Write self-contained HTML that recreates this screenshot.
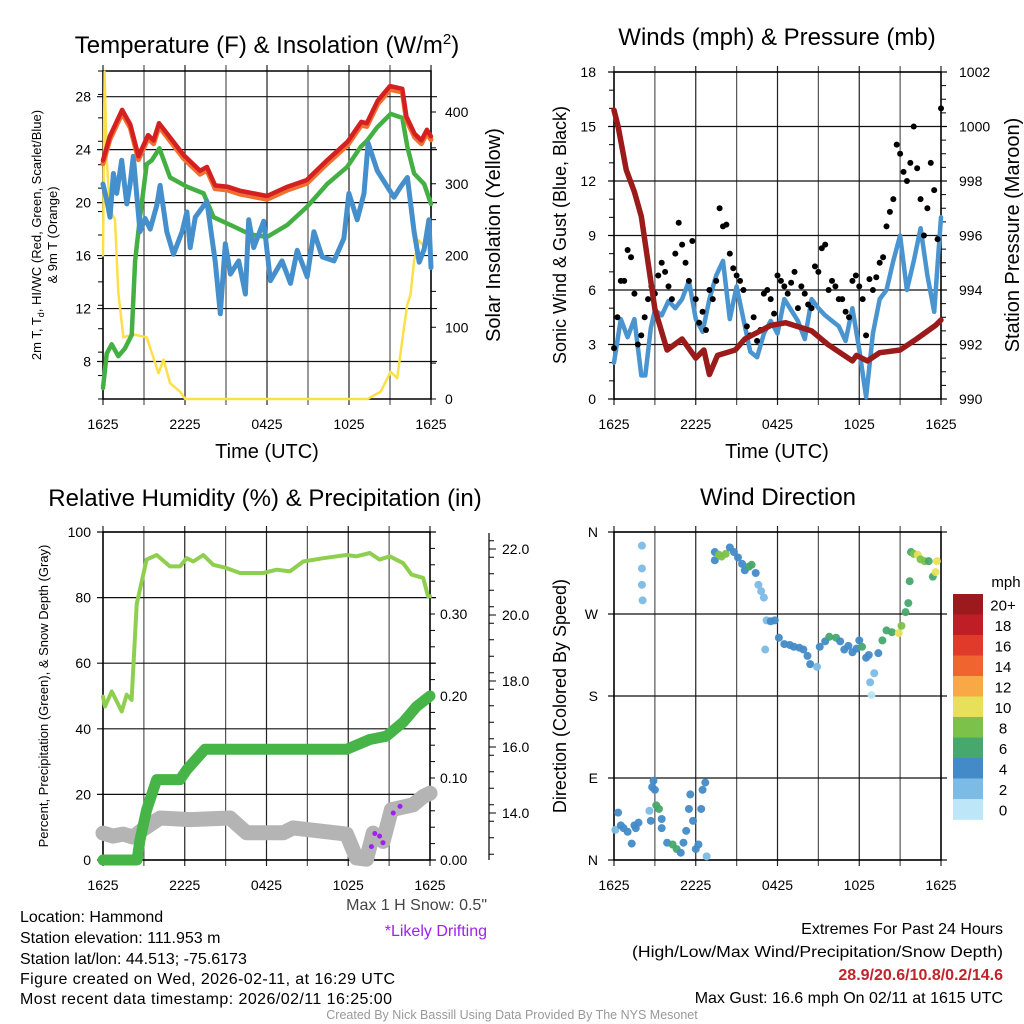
<!DOCTYPE html>
<html><head><meta charset="utf-8"><style>
body{margin:0;background:#fff}
svg{display:block;font-family:"Liberation Sans",sans-serif}
</style></head><body>
<svg id="c" width="1024" height="1024" viewBox="0 0 1024 1024" xmlns="http://www.w3.org/2000/svg">
<rect width="1024" height="1024" fill="#fff"/>
<g id="g1"></g>
<g id="g2"></g>
<g id="g3"></g>
<g id="g4"></g>
<g font-size="16" fill="#000">
<text x="20" y="922">Location: Hammond</text>
<text x="20" y="943">Station elevation: 111.953 m</text>
<text x="20" y="964">Station lat/lon: 44.513; -75.6173</text>
<text x="20" y="984" textLength="375">Figure created on Wed, 2026-02-11, at 16:29 UTC</text>
<text x="20" y="1004" textLength="372">Most recent data timestamp: 2026/02/11 16:25:00</text>
<text x="487" y="910" text-anchor="end" fill="#444">Max 1 H Snow: 0.5"</text>
<text x="487" y="936" text-anchor="end" fill="#a020f0">*Likely Drifting</text>
<text x="1003" y="934" text-anchor="end">Extremes For Past 24 Hours</text>
<text x="1003" y="957" text-anchor="end" textLength="371" lengthAdjust="spacingAndGlyphs">(High/Low/Max Wind/Precipitation/Snow Depth)</text>
<text x="1003" y="980" text-anchor="end" fill="#c0242c" font-weight="bold">28.9/20.6/10.8/0.2/14.6</text>
<text x="1003" y="1003" text-anchor="end">Max Gust: 16.6 mph On 02/11 at 1615 UTC</text>
<text x="512" y="1019" text-anchor="middle" font-size="12.5" fill="#999">Created By Nick Bassill Using Data Provided By The NYS Mesonet</text>
</g>
</svg>
<script>
// ---------- DATA ----------
const xTickLabels=["1625","2225","0425","1025","1625"];
const tempTicks=[8,12,16,20,24,28];
const solarTicks=[0,100,200,300,400];
const windTicks=[0,3,6,9,12,15,18];
const presTicks=[990,992,994,996,998,1000,1002];
const pctTicks=[0,20,40,60,80,100];
const precipTicks=[0,0.1,0.2,0.3];
const snowTicks=[14,16,18,20,22];
const dirTicks=["N","E","S","W","N"];
const speedBins=["0","2","4","6","8","10","12","14","16","18","20+"];

const redT=[0,0.5,1.4,2,2.6,3.3,3.7,4.1,4.7,5.9,7.1,7.6,8.2,9.1,10,12,13.5,14.9,16.4,17.9,18.9,19.3,20.1,21,21.9,22.2,22.8,23.3,23.7,24];
const redV=[23.2,25,27,25.9,23.5,25.1,24.7,26,25.2,23.6,22.4,22.7,21.3,21.2,20.9,20.5,21.2,21.7,23.2,24.6,26.1,26,27.7,28.8,28.6,26.5,25.2,24.7,25.5,25];
const greenT=[0,0.27,0.64,1.12,1.61,2.1,2.35,2.71,3.2,3.57,4.13,4.91,6.14,7.36,8.09,9.56,10.78,12,13.47,14.94,16.4,17.87,18.85,19.34,20.07,21.05,21.9,22.27,22.76,23.5,24];
const greenV=[6,8.6,9.3,8.4,9,10,15.6,18.9,22.9,23.2,24.1,21.9,21.2,20.7,18.9,18.2,17.6,17.4,18.3,19.7,21.4,22.7,24.2,24.7,25.7,26.7,26.4,24.2,22.2,21.4,19.9];
const blueT=[0,0.27,0.51,0.76,1,1.37,1.74,1.98,2.22,2.71,3.08,3.45,3.94,4.18,4.67,5.16,5.79,6.14,6.38,6.75,7.6,8.22,8.58,8.95,9.32,9.93,10.42,10.66,11.03,11.76,12.25,13.1,13.72,14.21,14.94,15.43,16.04,16.9,17.63,17.99,18.6,19.1,19.4,20.07,20.8,21.29,21.78,22.27,22.76,23.14,23.5];
const blueV=[21.4,20.2,18.9,22.2,20.7,23.2,19.9,21.4,23.5,17.8,18.8,18,19.8,21.3,17.8,16.1,17.8,19.3,16.6,18.9,20.1,15.5,11.6,16.9,14.6,15.6,13.1,18.7,16.6,18.6,14.1,15.6,13.9,16.4,14.4,17.8,15.9,15.6,17.3,20.7,18.7,20.7,24.5,22.4,21.2,20.4,21.2,21.9,17.8,15.5,16.5];
const blueT2=[23.85,24];
const blueV2=[18.7,15.1];
const solarT=[0,0.12,0.27,0.51,0.88,1.12,1.49,2.22,3.2,4.06,4.43,4.91,5.65,6.02,19.34,20.31,21.05,21.53,22.02,22.27,22.51,22.76,23.12,23.5];
const solarV=[200,456,333,264,250,148,86,90,86,36,55,22,10,0,0,10,38,29,99,132,146,193,221,212];

const windT=[0,0.5,1,1.5,2,2.3,2.7,3,3.5,4,4.5,5,5.5,6,6.5,7,7.5,8,8.5,9,9.5,10,10.5,11,11.5,12,12.5,13,13.5,14,14.5,15,15.5,16,16.5,17,17.5,18,18.5,19,19.5,20,20.5,21,21.5,22,22.5,23,23.5,24];
const windV=[2,4.4,3.4,4.4,1.3,1.3,3.9,4.9,4.6,5.4,5,5.5,6.5,4.4,3.7,5.5,6.8,7.6,4.4,6.2,4.4,2.6,2.3,3.6,4.3,3.6,5.5,4.9,4.3,3.3,5.5,5,4.6,4.3,4,3.2,5,2.7,0.1,3.6,5.5,6,7.6,9,6,7.6,9.4,6.8,4.8,10];
const gustT=[0,0.5,1,1.5,2,2.5,3,3.5,4,4.5,5,5.5,6,6.5,7,7.5,8,8.5,9,9.5,10,10.5,11,11.5,12,12.5,13,13.5,14,14.5,15,15.5,16,16.5,17,17.5,18,18.5,19,19.5,20,20.5,21,21.5,22,22.5,23,23.5,24];
const gustV=[2.8,6.5,8.2,5.8,3.5,5.5,5.8,7.5,6.2,8,8.5,6.5,5.5,4.8,6,6.5,9.5,8,6.8,6,3.5,3.2,5.8,5.5,6.8,6.2,6.4,5,5.8,5,7,8.5,6.5,5.5,4.8,6.5,6.2,3.5,6,7.5,9.5,11,13.5,12,15,11,10.5,11.5,16];
const gust2T=[0.25,0.75,1.25,1.75,2.25,2.75,3.25,3.75,4.25,4.75,5.25,5.75,6.25,6.75,7.25,7.75,8.25,8.75,9.25,9.75,10.25,10.75,11.25,11.75,12.25,12.75,13.25,13.75,14.25,14.75,15.25,15.75,16.25,16.75,17.25,17.75,18.25,18.75,19.25,19.75,20.25,20.75,21.25,21.75,22.25,22.75,23.25,23.75];
const gust2V=[4.5,6.5,7.8,3,4.5,6.2,6.8,7,5.5,9.7,7.5,8.7,4.2,3.8,5.5,10.5,9.6,7.2,6.5,4,4.5,3.8,6,4.7,6.5,5.8,7,6.2,5.2,7.3,8.3,6,6.2,5.5,4.5,6.8,5.5,6.6,6.7,7.8,10.3,14,12.5,13,12.7,9,13,8.8];
const presT=[0,0.3,0.9,1.5,2,2.5,3,3.9,5,6,6.6,7,7.6,8.9,9.6,11.5,12.6,14.5,15.7,17.5,17.8,18.6,19.5,21,22.2,23.6,24];
const presV=[1000.6,1000,998.4,997.6,996.7,995,993.3,991.8,992.2,991.5,991.8,990.9,991.6,991.8,992.2,992.7,992.8,992.5,992,991.4,991.6,991.4,991.7,991.8,992.2,992.7,992.9];

const rhT=[0,0.15,0.64,1.37,1.74,2.1,2.47,3.2,3.94,4.91,5.65,6.14,6.63,7.36,8.09,9.07,10.05,11.03,11.76,12.74,13.72,14.69,16.16,17.87,18.6,19.58,20.3,21.05,22.03,22.64,23.5,23.85,24];
const rhV=[49.8,46.8,51.4,45.3,50.4,48.8,78,91.6,93,89.5,89.5,92,91,93,90,89,87.5,87.5,87.5,88.5,88,91,92,93,92.6,93.6,91.6,92.6,90.5,87,86,80.4,80.4];
const precipT=[0,2.5,2.71,3.2,3.94,5.65,6.14,7.48,17.87,19.58,20.8,22.03,23,24];
const precipV=[0,0,0.024,0.061,0.098,0.098,0.11,0.135,0.135,0.147,0.151,0.168,0.187,0.2];
const snowT=[0,0.73,1.47,2.2,2.93,4.18,6.38,9.32,10.54,13.23,13.96,17.87,18.6,19.34,19.83,20.56,21.17,22.76,23.5,24];
const snowV=[13.39,13.3,13.36,13.27,13.5,13.85,13.8,13.85,13.4,13.4,13.55,13.36,12.64,12.6,13.39,13.14,14.1,14.25,14.5,14.6];
const driftT=[19.7,19.95,20.3,20.55,21.3,21.8];
const driftV=[12.98,13.38,13.3,13.1,14,14.2];

const dirT=[0.1,0.3,0.5,0.7,1,1.3,1.5,1.6,1.8,2.05,2.05,2.05,2.1,2.6,2.7,2.8,2.9,3,3.1,3.3,3.5,3.5,3.9,4.3,4.6,4.9,5.1,5.3,5.5,5.6,5.8,6,6.2,6.4,6.5,6.7,6.8,7.4,7.4,7.7,7.9,8.2,8.5,8.8,9.1,9.4,9.6,9.9,10.1,10.4,10.6,10.8,11,11.1,11.2,11.5,11.8,12.1,12.5,12.9,13.2,13.6,13.9,14.2,14.4,14.9,15.1,15.5,15.8,16.3,16.6,16.9,17.2,17.5,17.8,18,18.2,18.5,18.7,18.8,18.9,19.1,19.4,19.7,20,20.4,20.9,21.1,21.4,21.6,21.7,21.8,22,22.3,22.5,22.8,23.1,23.4,23.6,23.7];
const dirV=[33,52,38,35,31,18,38,35,41,345,320,302,285,54,43,80,87,77,60,56,45,35,19,17,12,8,19,32,56,72,43,12,17,56,77,85,4,338,329,335,333,336,343,338,332,325,318,322,324,315,302,295,288,231,263,262,263,244,237,236,234,233,231,224,215,212,234,240,245,244,240,231,235,228,232,241,234,222,225,195,181,205,227,241,252,250,249,257,272,282,306,338,336,335,330,328,328,311,316,328];
const dirS=[2,3,3,4,4,3,3,4,4,2,2,1,1,2,3,4,4,4,6,6,4,4,4,6,6,4,3,4,3,3,3,4,4,3,4,4,2,3,4,7,8,8,4,4,4,4,4,6,6,4,2,2,2,2,2,4,4,4,4,4,4,4,4,4,4,2,4,4,6,6,4,4,4,4,4,4,6,4,3,1,0.5,1,4,6,6,6,10,8,6,6,6,6,8,10,8,8,6,6,10,10];

// ---------- DRAW ----------
const NS="http://www.w3.org/2000/svg";
function el(parent,tag,attrs,txt){const e=document.createElementNS(NS,tag);for(const k in attrs)e.setAttribute(k,attrs[k]);if(txt!==undefined)e.textContent=txt;parent.appendChild(e);return e;}
function lin(d0,d1,r0,r1){return v=>r0+(v-d0)*(r1-r0)/(d1-d0);}
function path(ts,vs,xs,ys){return ts.map((t,i)=>(i?"L":"M")+xs(t).toFixed(1)+","+ys(vs[i]).toFixed(1)).join("");}

function frame(g,x0,x1,y0,y1,xs,hTicks,yPos){
  for(let h=0;h<=24;h+=3){const x=xs(h);const l=el(g,"line",{x1:x,x2:x,y1:y0-6,y2:y1+6,stroke:h%6?"#555":"#222","stroke-width":1.2});
  
  }
  hTicks.forEach(v=>{const y=yPos(v);const l=el(g,"line",{x1:x0-6,x2:x1+6,y1:y,y2:y,stroke:"#111","stroke-width":1.2});
  
  });
  const f=el(g,"rect",{x:x0,y:y0,width:x1-x0,height:y1-y0,fill:"none",stroke:"#000","stroke-width":1.5});
  
  
  xTickLabels.forEach((s,i)=>{const t=el(g,"text",{x:xs(i*6),y:y1+30,"text-anchor":"middle","font-size":14},s);
  
  });
}
function title(g,x,y,s,name){const t=el(g,"text",{x:x,y:y,"text-anchor":"middle","font-size":24},s);return t;}
function ytitle(g,x,y,s,name,fs){const t=el(g,"text",{x:x,y:y,"text-anchor":"middle","font-size":fs||20,transform:`rotate(-90 ${x} ${y})`},s);return t;}
function line(g,d,color,w,name){const p=el(g,"path",{d:d,fill:"none",stroke:color,"stroke-width":w,"stroke-linejoin":"round","stroke-linecap":"round"});return p;}
function minor(g,x,y0,y1,n,dir){for(let i=0;i<=n;i++){const y=y0+(y1-y0)*i/n;el(g,"line",{x1:x,x2:x+dir*5,y1:y,y2:y,stroke:"#000"});}}

// Panel 1
(function(){
const g=document.getElementById("g1");
const X0=103,X1=431,Y0=71,Y1=399;
const xs=lin(0,24,X0,X1), ys=lin(28,8,96.7,361.5), ss=lin(0,400,399,112);
frame(g,X0,X1,Y0,Y1,xs,tempTicks,ys);
minor(g,X0,Y0,Y1,14,-1);minor(g,X1,112,399,8,1);
tempTicks.forEach(v=>{const t=el(g,"text",{x:X0-12,y:ys(v)+5,"text-anchor":"end","font-size":14},v);

});
solarTicks.forEach(v=>{const t=el(g,"text",{x:X1+14,y:ss(v)+5,"font-size":14},v);

});
line(g,path(solarT,solarV,xs,ss),"#fde047",2.5,"solar-insolation-line");
line(g,path(greenT,greenV,xs,ys),"#44b044",4.5,"dewpoint-line");
line(g,path(blueT.concat(blueT2),blueV.concat(blueV2),xs,ys),"#4590cc",5,"wind-chill-line");
line(g,path(redT,redV.map(v=>v-0.25),xs,ys),"#f07030",5,"temp-9m-line");
line(g,path(redT,redV,xs,ys),"#d42020",4.5,"temp-2m-line");
const tt=el(g,"text",{x:267,y:53,"text-anchor":"middle","font-size":24});


tt.innerHTML='Temperature (F) &amp; Insolation (W/m<tspan dy="-9" font-size="15">2</tspan><tspan dy="9">)</tspan>';
const yt=el(g,"text",{x:0,y:0,"text-anchor":"middle","font-size":13,transform:"translate(41,235) rotate(-90)"});


yt.innerHTML='2m T, T<tspan font-size="9" dy="3">d</tspan><tspan dy="-3">, HI/WC (Red, Green, Scarlet/Blue)</tspan>';
const yt2=el(g,"text",{x:0,y:0,"text-anchor":"middle","font-size":13,transform:"translate(57,235) rotate(-90)"},'& 9m T (Orange)');


ytitle(g,500,235,"Solar Insolation (Yellow)","solar-y-title");
const xt=el(g,"text",{x:267,y:458,"text-anchor":"middle","font-size":20},"Time (UTC)");


})();

// Panel 2
(function(){
const g=document.getElementById("g2");
const X0=614,X1=941,Y0=72,Y1=399;
const xs=lin(0,24,X0,X1), ys=lin(0,18,Y1,Y0), ps=lin(990,1002,Y1,Y0);
frame(g,X0,X1,Y0,Y1,xs,windTicks,ys);
minor(g,X0,Y0,Y1,18,-1);minor(g,X1,Y0,Y1,24,1);
windTicks.forEach(v=>{const t=el(g,"text",{x:X0-18,y:ys(v)+5,"text-anchor":"end","font-size":14},v);

});
presTicks.forEach(v=>{const t=el(g,"text",{x:X1+18,y:ps(v)+5,"font-size":14},v);

});
line(g,path(windT,windV,xs,ys),"#4a94d0",4.5,"sonic-wind-line");
gustT.forEach((t,i)=>{const c=el(g,"circle",{cx:xs(t),cy:ys(gustV[i]),r:3,fill:"#000"});

});
gust2T.forEach((t,i)=>{const c=el(g,"circle",{cx:xs(t),cy:ys(gust2V[i]),r:3,fill:"#000"});

});
line(g,path(presT,presV,xs,ps),"#9b1b1b",5.5,"pressure-line");
title(g,777,45,"Winds (mph) & Pressure (mb)","winds-title");
ytitle(g,566,235,"Sonic Wind & Gust (Blue, Black)","wind-y-title",18);
ytitle(g,1019,235,"Station Pressure (Maroon)","pressure-y-title",20);
const xt=el(g,"text",{x:777,y:458,"text-anchor":"middle","font-size":20},"Time (UTC)");


})();

// Panel 3
(function(){
const g=document.getElementById("g3");
const X0=103,X1=430,Y0=532,Y1=860;
const xs=lin(0,24,X0,X1), ys=lin(0,100,Y1,Y0), prs=lin(0,0.4,Y1,Y0), sns=lin(14,22,813,549);
frame(g,X0,X1,Y0,Y1,xs,pctTicks,ys);
minor(g,X1,Y0,Y1,20,1);
pctTicks.forEach(v=>{const t=el(g,"text",{x:X0-12,y:ys(v)+5,"text-anchor":"end","font-size":14},v);

});
precipTicks.forEach(v=>{const t=el(g,"text",{x:X1+10,y:prs(v)+5,"font-size":14},v.toFixed(2));

});
const ax=el(g,"line",{x1:489,x2:489,y1:533,y2:860,stroke:"#000","stroke-width":1.2});


for(let s=12.75;s<=22.5;s+=0.5){const y=sns(s);if(y<533||y>858)continue;el(g,"line",{x1:489,x2:494,y1:y,y2:y,stroke:"#000"});}
snowTicks.forEach(v=>{el(g,"line",{x1:489,x2:496,y1:sns(v),y2:sns(v),stroke:"#000"});const t=el(g,"text",{x:502,y:sns(v)+5,"font-size":14},v.toFixed(1));

});
line(g,path(snowT,snowV,xs,sns),"#b4b4b4",15,"snow-depth-line");
line(g,path(precipT,precipV,xs,prs),"#46b446",11,"precipitation-line");
line(g,path(rhT,rhV,xs,ys),"#8fcf4f",4,"relative-humidity-line");
driftT.forEach((t,i)=>{const c=el(g,"circle",{cx:xs(t),cy:sns(driftV[i]),r:2.5,fill:"#a020f0"});

});
title(g,265,506,"Relative Humidity (%) & Precipitation (in)","humidity-title");
ytitle(g,48,696,"Percent, Precipitation (Green), & Snow Depth (Gray)","humidity-y-title",13);
})();

// Panel 4
(function(){
const g=document.getElementById("g4");
const X0=614,X1=941,Y0=532,Y1=860;
const xs=lin(0,24,X0,X1), ds=lin(0,360,Y1,Y0);
frame(g,X0,X1,Y0,Y1,xs,[0,90,180,270,360],ds);
dirTicks.forEach((s,i)=>{const t=el(g,"text",{x:X0-16,y:ds(i*90)+5,"text-anchor":"end","font-size":14},s);

});
const colors=["#bde6f8","#7cbbe6","#438bc8","#46a86c","#7cc24a","#e8e05a","#f8a844","#f06430","#e03a2a","#c01e26","#9c1a1e"];
const sc=s=>colors[Math.min(10,Math.round(s/2))];
dirT.forEach((t,i)=>{const c=el(g,"circle",{cx:xs(t),cy:ds(dirV[i]),r:4,fill:sc(dirS[i]),opacity:0.95});

});
const by0=594,bh=20.5;
speedBins.forEach((s,i)=>{const k=10-i;const y=by0+bh*i;
const r=el(g,"rect",{x:953,y:y,width:30,height:bh+0.3,fill:colors[k]});


const t=el(g,"text",{x:1003,y:y+bh/2+6,"text-anchor":"middle","font-size":15},speedBins[k]);

});
const u=el(g,"text",{x:1006,y:587,"text-anchor":"middle","font-size":15},"mph");


title(g,778,505,"Wind Direction","wind-direction-title");
ytitle(g,566,696,"Direction (Colored By Speed)","direction-y-title",18);
})();
</script>
</body></html>
